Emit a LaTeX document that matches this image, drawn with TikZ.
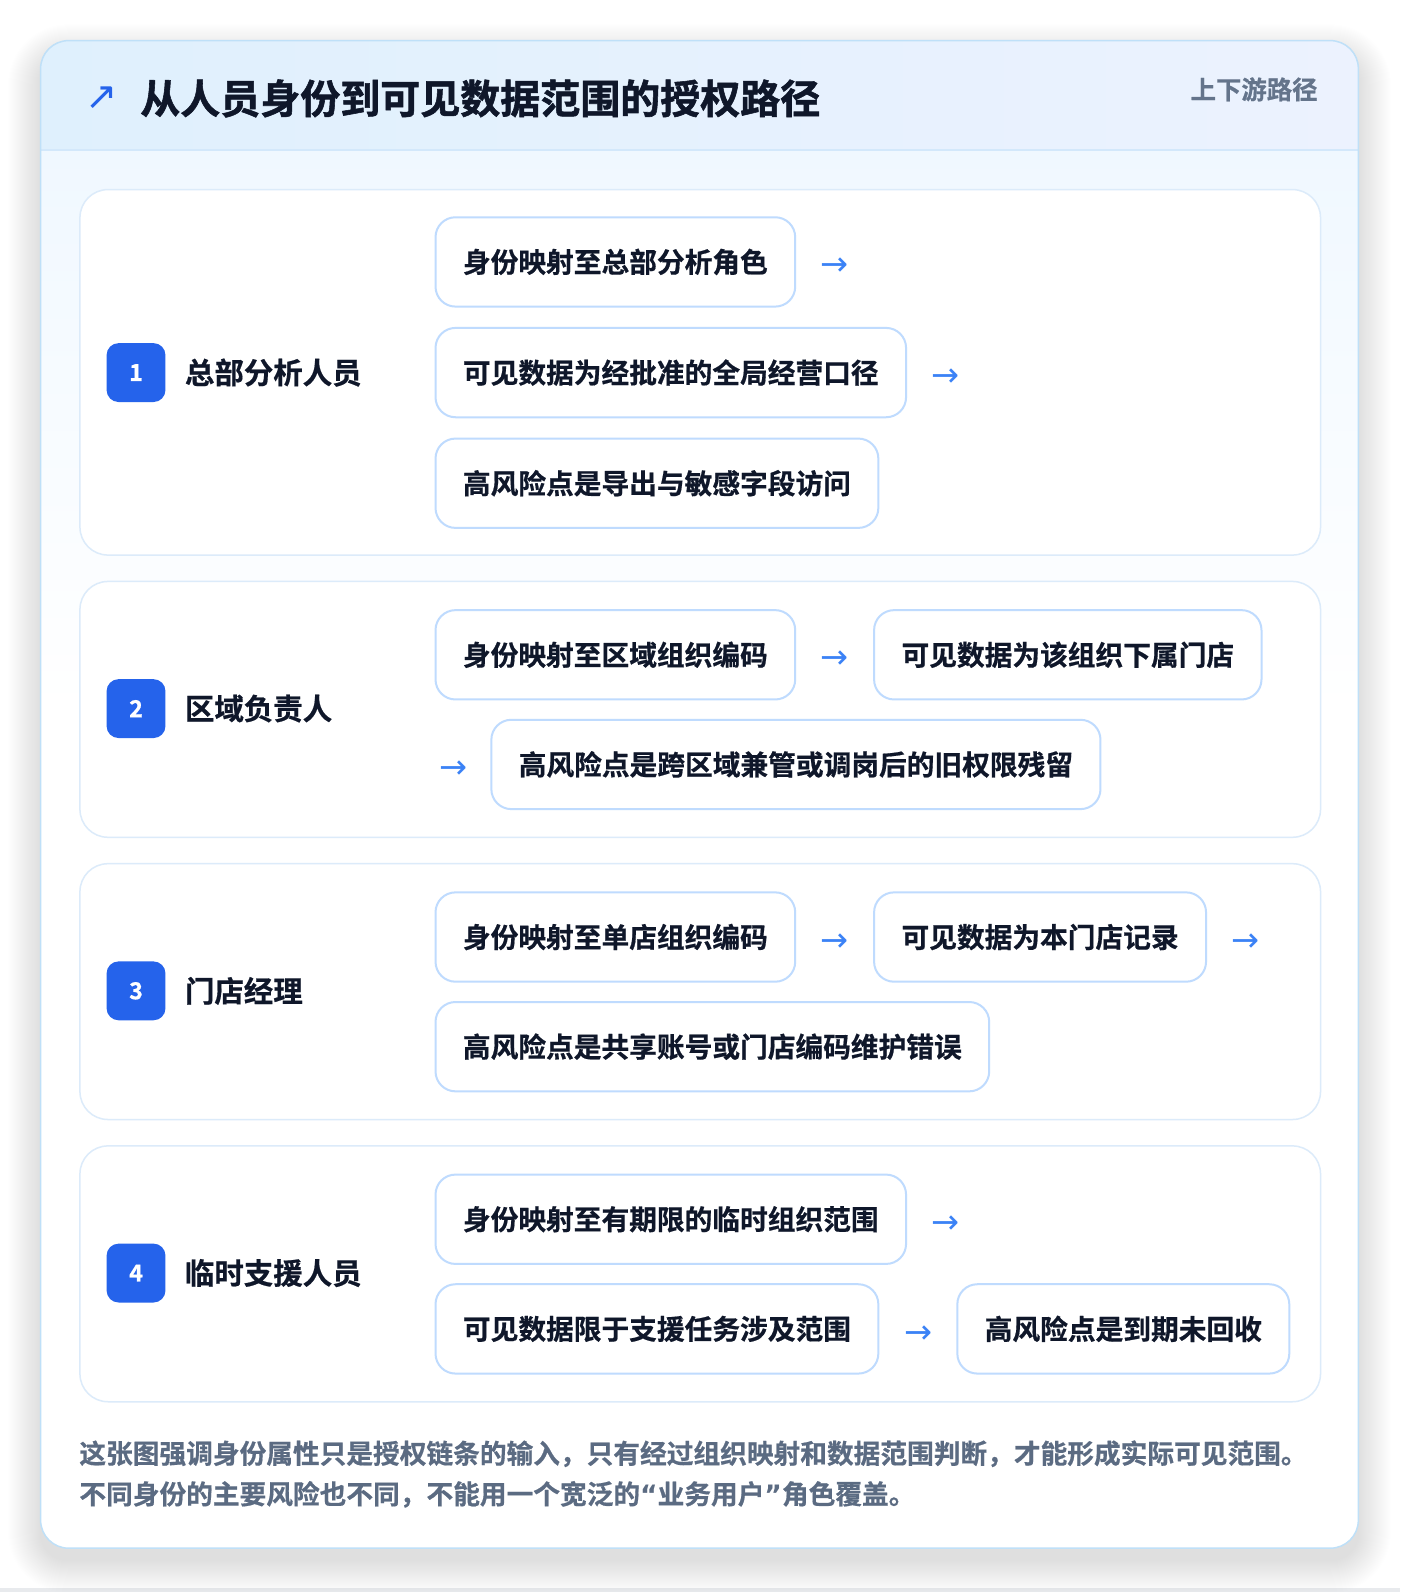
\documentclass[tikz,border=0pt]{standalone}
\usepackage{fontspec}
\setmainfont{Noto Sans CJK SC Bold}[FakeBold=0.6]
\newfontfamily\titlefont{Noto Sans CJK SC Bold}[FakeBold=1.4]
\newfontfamily\symfont{DejaVu Sans}
\newfontfamily\latinfont{DejaVu Sans Bold}
\definecolor{dark}{HTML}{0F172A}
\definecolor{mutedgray}{HTML}{64748B}
\definecolor{footgray}{HTML}{5B6B82}
\definecolor{badgeblue}{HTML}{2563EB}
\definecolor{arrowblue}{HTML}{3B82F6}
\definecolor{hdrL}{HTML}{DFF0FD}
\definecolor{hdrR}{HTML}{ECF2FE}
\definecolor{hdrline}{HTML}{D3E8FB}
\definecolor{cardline}{HTML}{BFE0F8}
\definecolor{bodytop}{HTML}{F0F8FF}
\definecolor{panelline}{HTML}{DCEBFA}
\definecolor{boxline}{HTML}{BFDBFE}
\definecolor{strip}{HTML}{E8EAED}
\tikzset{
  panel/.style={draw=panelline, line width=1.5pt, fill=white, rounded corners=28pt, anchor=north west, inner sep=0pt, minimum width=1222pt},
  stepbox/.style={draw=boxline, line width=2pt, fill=white, rounded corners=20pt, anchor=north west, inner xsep=27pt, inner ysep=0pt, minimum height=88pt, text=dark, font=\fontsize{27.3}{32}\selectfont},
  badge/.style={fill=badgeblue, rounded corners=12pt, minimum width=58pt, minimum height=58pt, inner sep=0pt, text=white, font=\fontsize{23}{26}\selectfont},
  lab/.style={anchor=west, inner sep=0pt, text=dark, font=\fontsize{29}{34}\selectfont},
  arr/.style={inner sep=0pt, text=arrowblue, font=\symfont\fontsize{33}{35}\selectfont},
  foot/.style={anchor=west, inner sep=0pt, text=footgray, font=\fontsize{26.3}{32}\selectfont}
}
\begin{document}
\begin{tikzpicture}[x=1pt,y=-1pt]
\useasboundingbox (0,0) rectangle (1400,1592);
\fill[white] (0,0) rectangle (1400,1592);
\begin{scope}[scale=1.0152, transform shape]
\fill[strip] (0,1564) rectangle (1379,1569);
% shadow
\foreach \i in {1,...,32} {
  \fill[black, opacity=0.0035, rounded corners=28pt+\i pt] (40-\i,56-\i) rectangle (1338+\i,1537+\i);
}
% card
\begin{scope}
  \clip[rounded corners=28pt] (40,40) rectangle (1338,1525);
  \fill[top color=bodytop, bottom color=white] (40,148) rectangle (1338,700);
  \fill[white] (40,699) rectangle (1338,1525);
  \fill[left color=hdrL, right color=hdrR] (40,40) rectangle (1338,148);
  \draw[hdrline, line width=1.5pt] (40,148) -- (1338,148);
\end{scope}
\draw[cardline, line width=1.5pt, rounded corners=28pt] (40,40) rectangle (1338,1525);
% header
\node[inner sep=0pt, text=badgeblue, font=\symfont\fontsize{38}{40}\selectfont] (hdrarrow) at (100,97) {↗};
\node[anchor=west, inner sep=0pt, text=dark, font=\titlefont\fontsize{39.4}{46}\selectfont] (title) at (138,97) {从人员身份到可见数据范围的授权路径};
\node[anchor=east, inner sep=0pt, text=mutedgray, font=\fontsize{25}{30}\selectfont] (sub) at (1298,88) {上下游路径};
% panels
\node[panel, minimum height=360pt] (p1) at (78,186) {};
\node[panel, minimum height=252pt] (p2) at (78,572) {};
\node[panel, minimum height=252pt] (p3) at (78,850) {};
\node[panel, minimum height=252pt] (p4) at (78,1128) {};
% panel 1
\node[badge] (b1) at (134,367) {1};
\node[lab] (l1) at (182,367) {总部分析人员};
\node[stepbox] (a11) at (428,213) {身份映射至总部分析角色};
\node[arr] (r11) at ([xshift=38pt,yshift=-5pt]a11.east) {→};
\node[stepbox] (a12) at (428,322) {可见数据为经批准的全局经营口径};
\node[arr] (r12) at ([xshift=38pt,yshift=-5pt]a12.east) {→};
\node[stepbox] (a13) at (428,431) {高风险点是导出与敏感字段访问};
% panel 2
\node[badge] (b2) at (134,698) {2};
\node[lab] (l2) at (182,698) {区域负责人};
\node[stepbox] (a21) at (428,600) {身份映射至区域组织编码};
\node[arr] (r21) at ([xshift=38pt,yshift=-5pt]a21.east) {→};
\node[stepbox] (a22) at (860,600) {可见数据为该组织下属门店};
\node[arr] (r22) at (447,758) {→};
\node[stepbox] (a23) at (483,708) {高风险点是跨区域兼管或调岗后的旧权限残留};
% panel 3
\node[badge] (b3) at (134,976) {3};
\node[lab] (l3) at (182,976) {门店经理};
\node[stepbox] (a31) at (428,878) {身份映射至单店组织编码};
\node[arr] (r31) at ([xshift=38pt,yshift=-5pt]a31.east) {→};
\node[stepbox] (a32) at (860,878) {可见数据为本门店记录};
\node[arr] (r32) at ([xshift=38pt,yshift=-5pt]a32.east) {→};
\node[stepbox] (a33) at (428,986) {高风险点是共享账号或门店编码维护错误};
% panel 4
\node[badge] (b4) at (134,1254) {4};
\node[lab] (l4) at (182,1254) {临时支援人员};
\node[stepbox] (a41) at (428,1156) {身份映射至有期限的临时组织范围};
\node[arr] (r41) at ([xshift=38pt,yshift=-5pt]a41.east) {→};
\node[stepbox] (a42) at (428,1264) {可见数据限于支援任务涉及范围};
\node[arr] (r42) at ([xshift=38pt,yshift=-5pt]a42.east) {→};
\node[stepbox] (a43) at (942,1264) {高风险点是到期未回收};
% footer
\node[foot] (f1) at (78,1432) {这张图强调身份属性只是授权链条的输入，只有经过组织映射和数据范围判断，才能形成实际可见范围。};
\node[foot] (f2) at (78,1472) {不同身份的主要风险也不同，不能用一个宽泛的{\latinfont “}业务用户{\latinfont ”}角色覆盖。};
\end{scope}
\end{tikzpicture}
\end{document}
